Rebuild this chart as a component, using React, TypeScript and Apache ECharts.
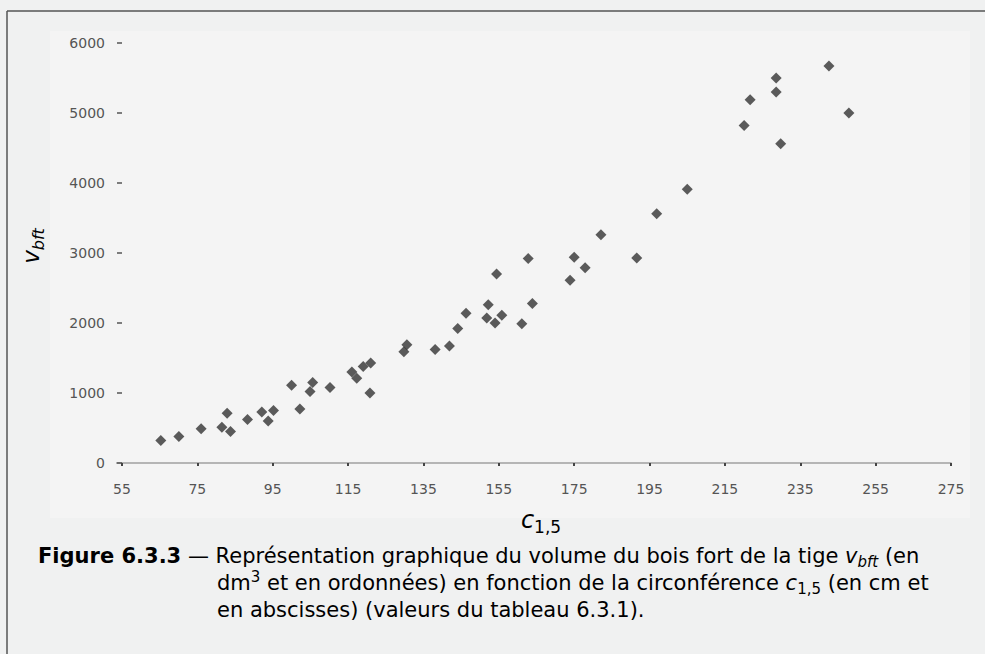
import React, { useEffect, useRef } from "react";
import * as echarts from "echarts";

// circumference c1,5 (cm)
const circumference = [
  65.3, 70.1, 76.0, 82.9, 81.5, 83.8, 88.3, 92.1, 95.2, 93.8,
  100.0, 102.2, 105.6, 104.9, 110.2, 120.8, 116.0, 117.3, 119.0, 121.0,
  130.6, 129.8, 138.1, 141.9, 144.1, 146.3, 152.2, 151.8, 154.0, 155.8,
  154.4, 161.1, 163.9, 162.8, 175.0, 177.9, 173.9, 182.1, 191.6, 196.9,
  205.0, 221.7, 220.1, 228.6, 228.6, 229.8, 242.6, 247.9,
];
// volume v_bft (dm3)
const volume = [
  320, 380, 490, 710, 510, 450, 620, 730, 750, 600,
  1110, 770, 1150, 1020, 1080, 1000, 1300, 1210, 1380, 1430,
  1690, 1590, 1620, 1670, 1920, 2140, 2260, 2070, 2000, 2110,
  2700, 1990, 2280, 2920, 2940, 2790, 2610, 3260, 2930, 3560,
  3910, 5190, 4820, 5500, 5300, 4560, 5670, 5000,
];
const xTicks = [55, 75, 95, 115, 135, 155, 175, 195, 215, 235, 255, 275];
const yTicks = [0, 1000, 2000, 3000, 4000, 5000, 6000];

const captionLines = [
  "{b|Figure 6.3.3}{n| — Représentation graphique du volume du bois fort de la tige }{it|v}{isub|bft}{n| (en}",
  "{n|dm}{sup|3}{n| et en ordonnées) en fonction de la circonférence }{it|c}{sub|1,5}{n| (en cm et}",
  "{n|en abscisses) (valeurs du tableau 6.3.1).}",
];

export default function App() {
  const ref = useRef<HTMLDivElement>(null);
  useEffect(() => {
    if (!ref.current) return;
    const chart = echarts.init(ref.current, null, { renderer: "svg" });
    const F = "DejaVu Sans";
    const capSize = 21;
    const LH = 27;
    const capRich = {
      n: { fontFamily: F, fontSize: capSize, color: "#222", lineHeight: LH, verticalAlign: "middle" },
      b: { fontFamily: F, fontSize: capSize, fontWeight: "bold", color: "#1a1a1a", lineHeight: LH, verticalAlign: "middle" },
      it: { fontFamily: F, fontSize: capSize, fontStyle: "italic", color: "#222", lineHeight: LH, verticalAlign: "middle" },
      isub: { fontFamily: F, fontSize: 15, fontStyle: "italic", color: "#222", lineHeight: 16, verticalAlign: "bottom" },
      sub: { fontFamily: F, fontSize: 15, color: "#222", lineHeight: 16, verticalAlign: "bottom" },
      sup: { fontFamily: F, fontSize: 15, color: "#222", lineHeight: 16, verticalAlign: "top" },
    };
    const capX = [38, 217, 217];
    const capY = [556, 583, 610];
    chart.setOption({
      animation: false,
      backgroundColor: "#f0f1f1",
      grid: { left: 122, right: 34, top: 43, bottom: 191, containLabel: false },
      xAxis: {
        type: "value",
        min: 55,
        max: 275,
        interval: 20,
        axisLine: { show: true, lineStyle: { color: "#a0a0a0", width: 1.5 } },
        axisTick: { show: true, length: 3, inside: false, lineStyle: { color: "#444", width: 2 } },
        splitLine: { show: false },
        axisLabel: {
          margin: 19,
          fontFamily: F,
          fontSize: 14,
          color: "#555",
          formatter: (v: number) => (xTicks.includes(v) ? String(v) : ""),
        },
      },
      yAxis: {
        type: "value",
        min: 0,
        max: 6000,
        interval: 1000,
        axisLine: { show: false },
        axisTick: { show: true, length: 5, lineStyle: { color: "#555", width: 1.5 } },
        splitLine: { show: false },
        axisLabel: {
          margin: 17,
          fontFamily: F,
          fontSize: 14,
          color: "#555",
          formatter: (v: number) => (yTicks.includes(v) ? String(v) : ""),
        },
      },
      graphic: [
        { type: "rect", z: -100, shape: { x: 50, y: 31, width: 920, height: 487 }, style: { fill: "#f4f4f4" }, silent: true },
        { type: "line", z: 100, shape: { x1: 7, y1: 11, x2: 985, y2: 11 }, style: { stroke: "#555", lineWidth: 1.5 } },
        { type: "line", z: 100, shape: { x1: 7, y1: 11, x2: 7, y2: 654 }, style: { stroke: "#555", lineWidth: 1.5 } },
        { type: "line", shape: { x1: 116, y1: 463, x2: 122, y2: 463 }, style: { stroke: "#a0a0a0", lineWidth: 1.5 } },
        {
          type: "text",
          x: 31,
          y: 246,
          rotation: Math.PI / 2,
          style: {
            text: "{v|v}{s|bft}",
            align: "center",
            verticalAlign: "middle",
            rich: {
              v: { fontFamily: F, fontSize: 23, fontStyle: "italic", color: "#222", lineHeight: 30, verticalAlign: "middle" },
              s: { fontFamily: F, fontSize: 16, fontStyle: "italic", color: "#222", lineHeight: 18, verticalAlign: "bottom" },
            },
          },
        },
        {
          type: "text",
          x: 541,
          y: 520,
          style: {
            text: "{c|c}{s|1,5}",
            align: "center",
            verticalAlign: "middle",
            rich: {
              c: { fontFamily: F, fontSize: 24, fontStyle: "italic", color: "#222", lineHeight: 30, verticalAlign: "middle" },
              s: { fontFamily: F, fontSize: 17, color: "#222", lineHeight: 18, verticalAlign: "bottom" },
            },
          },
        },
        ...captionLines.map((t, i) => ({
          type: "text",
          x: capX[i],
          y: capY[i],
          style: { text: t, align: "left", verticalAlign: "middle", rich: capRich },
        })),
      ],
      series: [
        {
          type: "scatter",
          symbol: "diamond",
          symbolSize: 11,
          itemStyle: { color: "#333333" },
          data: circumference.map((c, i) => [c, volume[i]]),
        },
      ],
    });
    return () => chart.dispose();
  }, []);
  return (
    <div
      ref={ref}
      style={{ position: "absolute", left: 0, top: 0, width: 985, height: 654 }}
    />
  );
}
